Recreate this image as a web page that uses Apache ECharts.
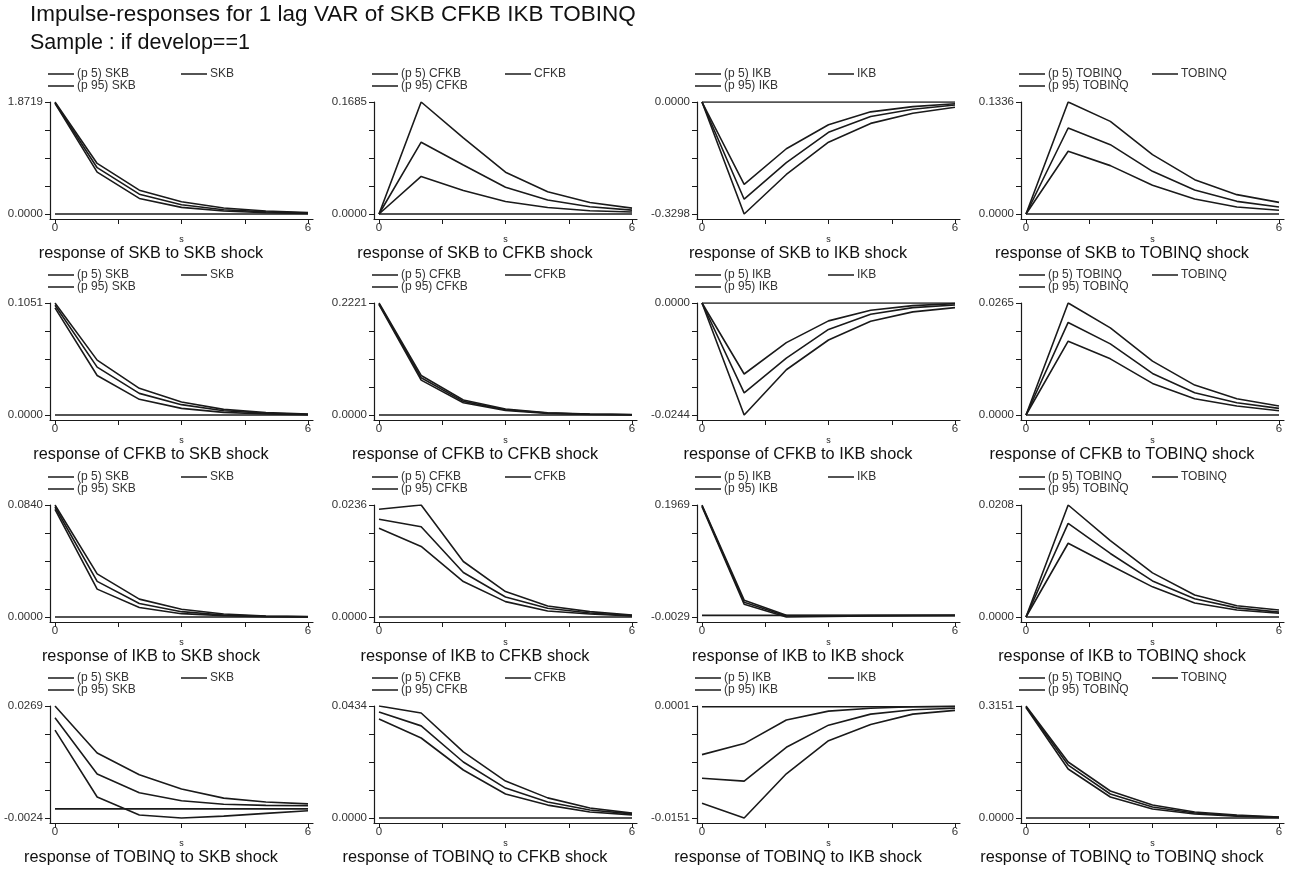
<!DOCTYPE html>
<html>
<head>
<meta charset="utf-8">
<script src="https://cdn.jsdelivr.net/npm/echarts@6/dist/echarts.min.js"></script>
<style>html,body{margin:0;padding:0;background:#fff}#c{width:1289px;height:873px}</style>
</head>
<body>
<div id="c"></div>
<script>
// ---------- DATA ----------
const steps = [0, 1, 2, 3, 4, 5, 6];
const variables = ['SKB', 'CFKB', 'IKB', 'TOBINQ'];
const xTickValues = [0, 1.5, 3, 4.5, 6];
const xTickLabels = [0, 6];

// y-axis end labels per panel (row = response, col = shock)
const yMaxLabels = [1.8719, 0.1685, 0.0000, 0.1336,
                    0.1051, 0.2221, 0.0000, 0.0265,
                    0.0840, 0.0236, 0.1969, 0.0208,
                    0.0269, 0.0434, 0.0001, 0.3151];
const yMinLabels = [0.0000, 0.0000, -0.3298, 0.0000,
                    0.0000, 0.0000, -0.0244, 0.0000,
                    0.0000, 0.0000, -0.0029, 0.0000,
                    -0.0024, 0.0000, -0.0151, 0.0000];

// response of SKB
const skb_skb_p5  = [1.8500, 0.700, 0.260, 0.111, 0.050, 0.020, 0.008];
const skb_skb_irf = [1.8600, 0.774, 0.331, 0.154, 0.071, 0.035, 0.015];
const skb_skb_p95 = [1.8719, 0.845, 0.398, 0.204, 0.099, 0.050, 0.025];
const skb_cfkb_p5  = [0, 0.0565, 0.0354, 0.0187, 0.0098, 0.0049, 0.0030];
const skb_cfkb_irf = [0, 0.1080, 0.0737, 0.0403, 0.0211, 0.0108, 0.0059];
const skb_cfkb_p95 = [0, 0.1685, 0.1145, 0.0629, 0.0334, 0.0172, 0.0088];
const skb_ikb_p5  = [0, -0.3298, -0.2134, -0.1183, -0.0630, -0.0330, -0.0155];
const skb_ikb_irf = [0, -0.2862, -0.1785, -0.0892, -0.0427, -0.0213, -0.0087];
const skb_ikb_p95 = [0, -0.2425, -0.1377, -0.0669, -0.0290, -0.0136, -0.0050];
const skb_tobinq_p5  = [0, 0.0748, 0.0577, 0.0342, 0.0179, 0.0084, 0.0044];
const skb_tobinq_irf = [0, 0.1026, 0.0827, 0.0509, 0.0286, 0.0151, 0.0084];
const skb_tobinq_p95 = [0, 0.1336, 0.1105, 0.0708, 0.0410, 0.0231, 0.0139];

// response of CFKB
const cfkb_skb_p5  = [0.1005, 0.0371, 0.0147, 0.0062, 0.0025, 0.0009, 0.0003];
const cfkb_skb_irf = [0.1030, 0.0449, 0.0203, 0.0097, 0.0040, 0.0016, 0.0006];
const cfkb_skb_p95 = [0.1051, 0.0515, 0.0250, 0.0122, 0.0053, 0.0022, 0.0009];
const cfkb_cfkb_p5  = [0.2190, 0.0692, 0.0244, 0.0092, 0.0033, 0.0012, 0.0004];
const cfkb_cfkb_irf = [0.2206, 0.0738, 0.0270, 0.0105, 0.0040, 0.0016, 0.0006];
const cfkb_cfkb_p95 = [0.2221, 0.0784, 0.0297, 0.0119, 0.0046, 0.0020, 0.0008];
const cfkb_ikb_p5  = [0, -0.0244, -0.01454, -0.00806, -0.00396, -0.00194, -0.00100];
const cfkb_ikb_irf = [0, -0.01958, -0.0120, -0.00576, -0.00245, -0.00100, -0.00043];
const cfkb_ikb_p95 = [0, -0.01547, -0.00864, -0.00389, -0.00158, -0.00058, -0.00014];
const cfkb_tobinq_p5  = [0, 0.01746, 0.01329, 0.00747, 0.00385, 0.00212, 0.00100];
const cfkb_tobinq_irf = [0, 0.02190, 0.01683, 0.00983, 0.00527, 0.00291, 0.00157];
const cfkb_tobinq_p95 = [0, 0.02650, 0.02060, 0.01274, 0.00708, 0.00385, 0.00212];

// response of IKB
const ikb_skb_p5  = [0.0808, 0.0209, 0.0071, 0.0025, 0.0010, 0.0003, 0.0001];
const ikb_skb_irf = [0.0825, 0.0267, 0.0101, 0.0040, 0.0015, 0.0005, 0.0002];
const ikb_skb_p95 = [0.0840, 0.0323, 0.0134, 0.0058, 0.0023, 0.0008, 0.0003];
const ikb_cfkb_p5  = [0.0187, 0.01486, 0.00746, 0.00324, 0.00127, 0.00063, 0.00020];
const ikb_cfkb_irf = [0.0206, 0.01900, 0.00937, 0.00422, 0.00183, 0.00084, 0.00028];
const ikb_cfkb_p95 = [0.0227, 0.02360, 0.01169, 0.00535, 0.00232, 0.00113, 0.00042];
const ikb_ikb_p5  = [0.1940, 0.0199, -0.0029, -0.0017, -0.0009, -0.0004, -0.0002];
const ikb_ikb_irf = [0.1955, 0.0235, -0.0012, -0.0010, -0.0005, -0.0002, -0.0001];
const ikb_ikb_p95 = [0.1969, 0.0271, 0.0002, -0.0004, -0.0002, -0.0001, 0.0000];
const ikb_tobinq_p5  = [0, 0.0137, 0.0096, 0.0056, 0.0026, 0.0013, 0.0007];
const ikb_tobinq_irf = [0, 0.0174, 0.0118, 0.0067, 0.0034, 0.0017, 0.0009];
const ikb_tobinq_p95 = [0, 0.0208, 0.0142, 0.0082, 0.0041, 0.0021, 0.0013];

// response of TOBINQ
const tobinq_skb_p5  = [0.0206, 0.0031, -0.0016, -0.0024, -0.0019, -0.0012, -0.0005];
const tobinq_skb_irf = [0.0238, 0.0091, 0.0042, 0.0021, 0.0012, 0.0009, 0.0008];
const tobinq_skb_p95 = [0.0269, 0.0146, 0.0089, 0.0052, 0.0028, 0.0018, 0.0013];
const tobinq_cfkb_p5  = [0.0384, 0.0310, 0.0186, 0.0093, 0.0050, 0.0023, 0.0012];
const tobinq_cfkb_irf = [0.0411, 0.0357, 0.0217, 0.0116, 0.0062, 0.0031, 0.0016];
const tobinq_cfkb_p95 = [0.0434, 0.0407, 0.0256, 0.0143, 0.0078, 0.0039, 0.0019];
const tobinq_ikb_p5  = [-0.0131, -0.0151, -0.0091, -0.0046, -0.0024, -0.0010, -0.0005];
const tobinq_ikb_irf = [-0.0097, -0.0101, -0.0055, -0.0025, -0.0010, -0.0004, -0.0002];
const tobinq_ikb_p95 = [-0.0065, -0.0050, -0.0018, -0.0006, -0.0002, 0.0000, 0.0001];
const tobinq_tobinq_p5  = [0.3110, 0.1378, 0.0590, 0.0253, 0.0112, 0.0050, 0.0014];
const tobinq_tobinq_irf = [0.3130, 0.1490, 0.0675, 0.0310, 0.0140, 0.0065, 0.0020];
const tobinq_tobinq_p95 = [0.3151, 0.1575, 0.0759, 0.0365, 0.0169, 0.0084, 0.0028];

const panelData = {
  skb_skb: [skb_skb_p5, skb_skb_irf, skb_skb_p95],
  skb_cfkb: [skb_cfkb_p5, skb_cfkb_irf, skb_cfkb_p95],
  skb_ikb: [skb_ikb_p5, skb_ikb_irf, skb_ikb_p95],
  skb_tobinq: [skb_tobinq_p5, skb_tobinq_irf, skb_tobinq_p95],
  cfkb_skb: [cfkb_skb_p5, cfkb_skb_irf, cfkb_skb_p95],
  cfkb_cfkb: [cfkb_cfkb_p5, cfkb_cfkb_irf, cfkb_cfkb_p95],
  cfkb_ikb: [cfkb_ikb_p5, cfkb_ikb_irf, cfkb_ikb_p95],
  cfkb_tobinq: [cfkb_tobinq_p5, cfkb_tobinq_irf, cfkb_tobinq_p95],
  ikb_skb: [ikb_skb_p5, ikb_skb_irf, ikb_skb_p95],
  ikb_cfkb: [ikb_cfkb_p5, ikb_cfkb_irf, ikb_cfkb_p95],
  ikb_ikb: [ikb_ikb_p5, ikb_ikb_irf, ikb_ikb_p95],
  ikb_tobinq: [ikb_tobinq_p5, ikb_tobinq_irf, ikb_tobinq_p95],
  tobinq_skb: [tobinq_skb_p5, tobinq_skb_irf, tobinq_skb_p95],
  tobinq_cfkb: [tobinq_cfkb_p5, tobinq_cfkb_irf, tobinq_cfkb_p95],
  tobinq_ikb: [tobinq_ikb_p5, tobinq_ikb_irf, tobinq_ikb_p95],
  tobinq_tobinq: [tobinq_tobinq_p5, tobinq_tobinq_irf, tobinq_tobinq_p95]
};

// ---------- LAYOUT ----------
const FONT = "'Liberation Sans', Arial, Helvetica, sans-serif";
const INK = '#1a1a1a';
const colX = [55, 379, 702, 1026];
const rowY = [102, 303, 505, 706];
const PW = 253, PH = 112, PAD = 5;

const option = {
  animation: false,
  backgroundColor: '#fff',
  title: [
    { text: 'Impulse-responses for 1 lag VAR of SKB CFKB IKB TOBINQ', left: 30, top: 3, padding: 0,
      textStyle: { fontFamily: FONT, fontSize: 22.5, fontWeight: 'normal', color: '#111' } },
    { text: 'Sample : if develop==1', left: 30, top: 32, padding: 0,
      textStyle: { fontFamily: FONT, fontSize: 21.5, fontWeight: 'normal', color: '#111' } }
  ],
  legend: [], grid: [], xAxis: [], yAxis: [], series: []
};

const xPad = PAD / PW * (steps[steps.length - 1] - steps[0]);
for (let r = 0; r < 4; r++) {
  for (let c = 0; c < 4; c++) {
    const idx = r * 4 + c;
    const x0 = colX[c], y0 = rowY[r];
    const resp = variables[r], shock = variables[c];
    const key = resp.toLowerCase() + '_' + shock.toLowerCase();
    const [p5, irf, p95] = panelData[key];
    const lo = yMinLabels[idx], hi = yMaxLabels[idx];
    const yTicks = [0, 1, 2, 3, 4].map(k => lo + k * (hi - lo) / 4);
    const names = ['(p 5) ' + shock, shock, '(p 95) ' + shock];

    option.grid.push({ left: x0 - PAD, top: y0, width: PW + 2 * PAD, height: PH + PAD });
    option.xAxis.push({
      gridIndex: idx, type: 'value',
      min: steps[0] - xPad, max: steps[steps.length - 1] + xPad,
      name: 's', nameLocation: 'middle', nameGap: 14,
      nameTextStyle: { fontFamily: FONT, fontSize: 9, color: INK },
      axisLine: { show: true, onZero: false, lineStyle: { color: INK, width: 1.2 } },
      axisTick: { show: true, length: 5, customValues: xTickValues, lineStyle: { color: INK, width: 1 } },
      axisLabel: { customValues: xTickLabels, formatter: v => String(Math.round(v)),
        fontFamily: FONT, fontSize: 11.5, color: '#333', margin: 3 },
      splitLine: { show: false }
    });
    option.yAxis.push({
      gridIndex: idx, type: 'value',
      min: lo - PAD / PH * (hi - lo), max: hi,
      axisLine: { show: true, onZero: false, lineStyle: { color: INK, width: 1.2 } },
      axisTick: { show: true, length: 5, customValues: yTicks, lineStyle: { color: INK, width: 1 } },
      axisLabel: { customValues: [lo, hi], formatter: v => v.toFixed(4),
        fontFamily: FONT, fontSize: 11.5, color: '#333', margin: 7 },
      splitLine: { show: false }
    });
    [p5, irf, p95].forEach((arr, k) => {
      option.series.push({
        type: 'line', name: names[k], xAxisIndex: idx, yAxisIndex: idx,
        data: steps.map((s, i) => [s, arr[i]]),
        symbol: 'none', silent: true, color: INK,
        lineStyle: { color: INK, width: 1.6 }
      });
    });
    option.series.push({
      type: 'line', name: 'zero', xAxisIndex: idx, yAxisIndex: idx,
      data: [[steps[0], 0], [steps[steps.length - 1], 0]],
      symbol: 'none', silent: true, color: INK,
      lineStyle: { color: INK, width: 1.6 }
    });
    const legendBase = {
      orient: 'vertical', top: y0 - 34, itemGap: 0, itemWidth: 26, itemHeight: 1.5,
      icon: 'rect', padding: 0, selectedMode: false,
      itemStyle: { color: INK },
      textStyle: { fontFamily: FONT, fontSize: 12, lineHeight: 11.5, color: '#333', padding: [0, 0, 0, -2] }
    };
    option.legend.push(Object.assign({}, legendBase, { data: [names[0], names[2]], left: x0 - 7 }));
    option.legend.push(Object.assign({}, legendBase, { data: [names[1]], left: x0 + 126 }));
    option.title.push({
      text: 'response of ' + resp + ' to ' + shock + ' shock',
      left: x0 + 96, top: y0 + PH + 32, textAlign: 'center', padding: 0,
      textStyle: { fontFamily: FONT, fontSize: 16.3, fontWeight: 'normal', color: '#111' }
    });
  }
}

const chart = echarts.init(document.getElementById('c'), null, { renderer: 'canvas' });
chart.setOption(option);
</script>
</body>
</html>
